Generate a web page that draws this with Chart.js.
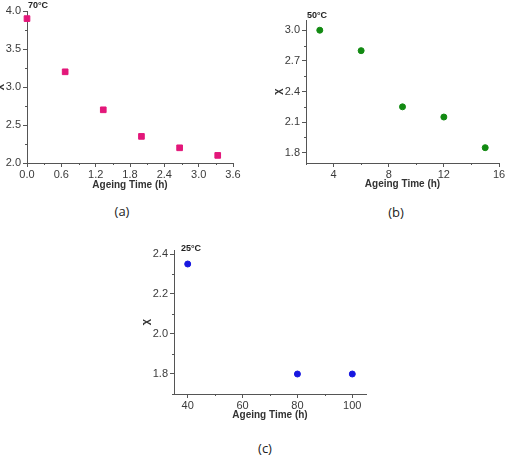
<!DOCTYPE html>
<html>
<head>
<meta charset="utf-8">
<script src="https://cdn.jsdelivr.net/npm/chart.js@4.4.1/dist/chart.umd.min.js"></script>
<style>
  body { margin: 0; background: #fff; width: 507px; height: 455px; overflow: hidden; position: relative; }
  canvas { position: absolute; }
  .lab { position: absolute; font: 13px "Open Sans", sans-serif; color: #222; transform: translateX(-50%); line-height: 18px; }
</style>
</head>
<body>
<canvas id="chartA" width="258" height="200" style="left:-8px;top:0"></canvas>
<canvas id="chartB" width="237" height="200" style="left:270px;top:0"></canvas>
<canvas id="chartC" width="245" height="200" style="left:135px;top:230px"></canvas>
<div class="lab" style="left:122px;top:202px">(a)</div>
<div class="lab" style="left:396px;top:203px">(b)</div>
<div class="lab" style="left:265px;top:439px">(c)</div>
<script>
// (a) 70°C
const timeA = [0, 0.667, 1.333, 2.0, 2.667, 3.333];
const chiA = [3.9, 3.2, 2.7, 2.35, 2.2, 2.1];
const xTicksA = [0, 0.6, 1.2, 1.8, 2.4, 3.0, 3.6];
const yTicksA = [2.0, 2.5, 3.0, 3.5, 4.0];

// (b) 50°C
const timeB = [3, 6, 9, 12, 15];
const chiB = [3.0, 2.8, 2.25, 2.15, 1.85];
const xTicksB = [4, 8, 12, 16];
const yTicksB = [1.8, 2.1, 2.4, 2.7, 3.0];

// (c) 25°C
const timeC = [40, 80, 100];
const chiC = [2.35, 1.8, 1.8];
const xTicksC = [40, 60, 80, 100];
const yTicksC = [1.8, 2.0, 2.2, 2.4];

const FONT = '"Liberation Sans", Arial, sans-serif';
const axisColor = '#555';
const textColor = '#3a3a3a';

// small unlabeled ticks half way between the labeled ones
const minorTicks = {
  id: 'minorTicks',
  afterDraw(chart) {
    const ctx = chart.ctx, a = chart.chartArea;
    ctx.save();
    ctx.strokeStyle = axisColor;
    ctx.lineWidth = 1;
    ['x', 'y'].forEach(function (k) {
      const s = chart.scales[k];
      const t = s.ticks.map(o => o.value);
      const step = t[1] - t[0];
      ctx.beginPath();
      for (let v = t[0] - step / 2; v <= s.max + 1e-9; v += step) {
        if (v < s.min - 1e-9) continue;
        const p = Math.round(s.getPixelForValue(v)) + 0.5;
        if (k === 'x') { ctx.moveTo(p, a.bottom); ctx.lineTo(p, a.bottom + 2); }
        else { ctx.moveTo(a.left, p); ctx.lineTo(a.left - 2, p); }
      }
      ctx.stroke();
    });
    ctx.restore();
  }
};

// temperature tag in the top left corner of each plot
const tempLabel = {
  id: 'tempLabel',
  afterDraw(chart, args, opts) {
    const ctx = chart.ctx, a = chart.chartArea;
    ctx.save();
    ctx.font = 'bold 9px ' + FONT;
    ctx.fillStyle = '#222';
    ctx.textBaseline = 'middle';
    ctx.textAlign = 'left';
    ctx.fillText(opts.text, a.left + opts.dx, a.top + opts.dy);
    ctx.restore();
  }
};

function makeChart(id, xs, ys, xTicks, yTicks, cfg) {
  const pts = xs.map((x, i) => ({ x: x, y: ys[i] }));
  return new Chart(document.getElementById(id), {
    type: 'scatter',
    data: {
      datasets: [{
        data: pts,
        backgroundColor: cfg.color,
        borderColor: cfg.color,
        borderWidth: 1,
        pointStyle: cfg.style,
        pointRadius: cfg.r,
        pointHoverRadius: cfg.r,
        clip: false
      }]
    },
    options: {
      responsive: false,
      animation: false,
      events: [],
      layout: { padding: { top: cfg.padTop, right: cfg.padRight, left: 0, bottom: 0 } },
      plugins: {
        legend: { display: false },
        tooltip: { enabled: false },
        tempLabel: { text: cfg.temp, dx: cfg.tdx, dy: cfg.tdy }
      },
      scales: {
        x: {
          type: 'linear',
          min: cfg.xMin, max: cfg.xMax,
          afterBuildTicks: s => { s.ticks = xTicks.map(v => ({ value: v })); },
          afterFit: s => { s.height = cfg.xH; },
          ticks: {
            autoSkip: false, maxRotation: 0, padding: 1,
            color: textColor, font: { family: FONT, size: 11 },
            callback: v => v.toFixed(cfg.xDec)
          },
          grid: { drawOnChartArea: false, drawTicks: true, tickLength: 4, tickColor: axisColor },
          border: { color: axisColor, width: 1 },
          title: {
            display: true, text: 'Ageing Time (h)', color: '#333',
            font: { family: FONT, size: 10, weight: 'bold' },
            padding: { top: 0, bottom: cfg.xTitlePad }
          }
        },
        y: {
          type: 'linear',
          min: cfg.yMin, max: cfg.yMax,
          afterBuildTicks: s => { s.ticks = yTicks.map(v => ({ value: v })); },
          afterFit: s => { s.width = cfg.yW; },
          ticks: {
            autoSkip: false, padding: 2,
            color: textColor, font: { family: FONT, size: 11 },
            callback: v => v.toFixed(1)
          },
          grid: { drawOnChartArea: false, drawTicks: true, tickLength: 4, tickColor: axisColor },
          border: { color: axisColor, width: 1 },
          title: {
            display: true, text: 'χ', color: '#333',
            font: { family: FONT, size: 11, weight: 'bold' },
            padding: { top: cfg.yTitlePad, bottom: 0 }
          }
        }
      }
    },
    plugins: [minorTicks, tempLabel]
  });
}

makeChart('chartA', timeA, chiA, xTicksA, yTicksA, {
  color: '#e3177a', style: 'rect', r: 4,
  xMin: 0, xMax: 3.6, yMin: 2, yMax: 4, xDec: 1,
  padTop: 11, padRight: 17, xH: 37, yW: 35, xTitlePad: 9, yTitlePad: 0,
  temp: '70°C', tdx: 1, tdy: -5
});

makeChart('chartB', timeB, chiB, xTicksB, yTicksB, {
  color: '#128a12', style: 'circle', r: 3,
  xMin: 2, xMax: 16, yMin: 1.7, yMax: 3.1, xDec: 0,
  padTop: 20, padRight: 8, xH: 37, yW: 36, xTitlePad: 10, yTitlePad: 1,
  temp: '50°C', tdx: 1, tdy: -4
});

makeChart('chartC', timeC, chiC, xTicksC, yTicksC, {
  color: '#1717e0', style: 'circle', r: 3,
  xMin: 35, xMax: 105, yMin: 1.7, yMax: 2.42, xDec: 0,
  padTop: 20, padRight: 14, xH: 36, yW: 39, xTitlePad: 9, yTitlePad: 4,
  temp: '25°C', tdx: 7, tdy: -1
});
</script>
</body>
</html>
